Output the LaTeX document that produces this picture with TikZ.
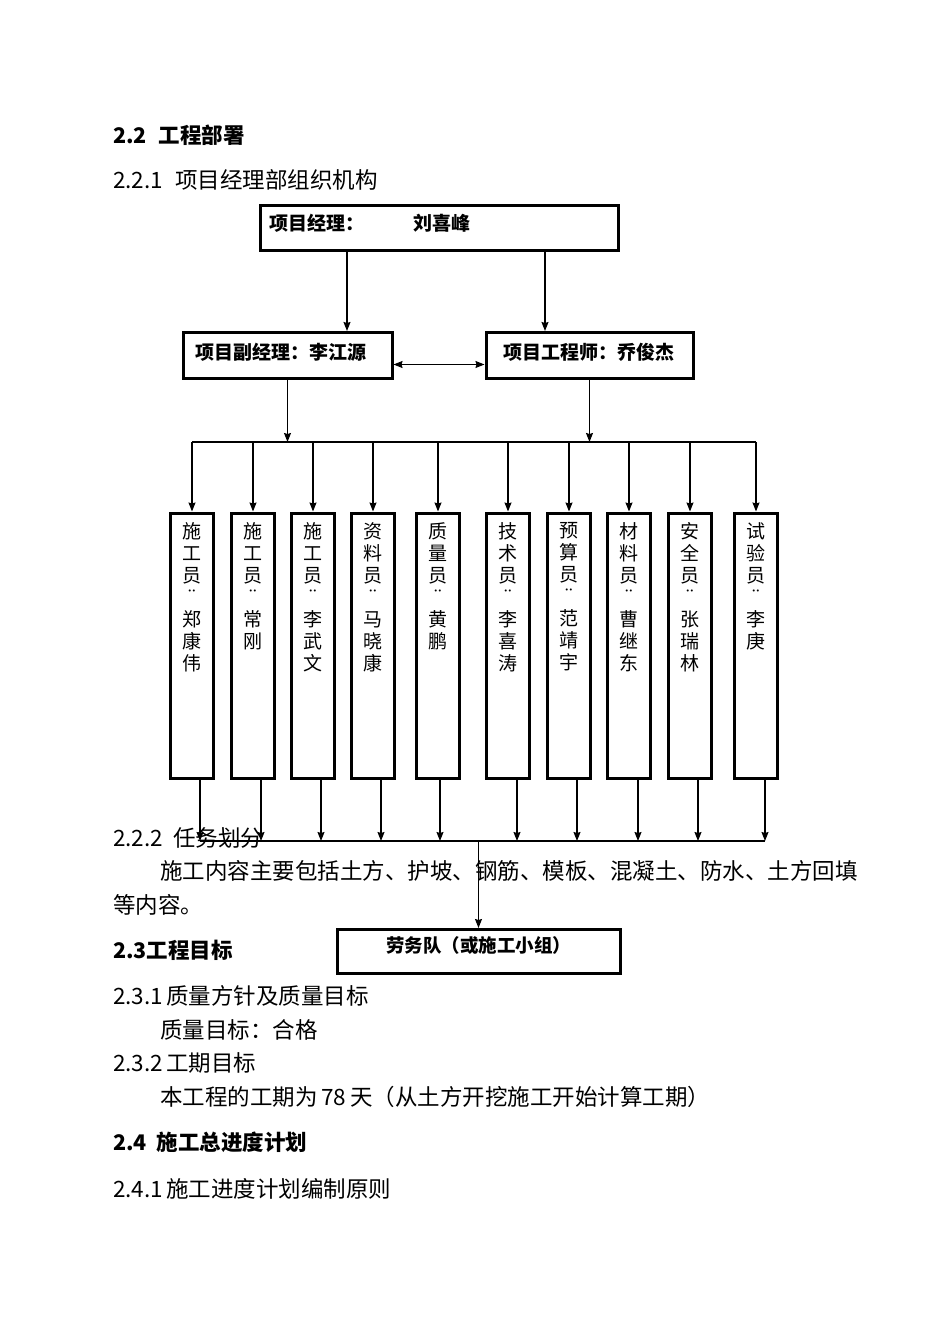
\documentclass[tikz,border=0pt]{standalone}
\usepackage{fontspec}
\setmainfont{Noto Sans CJK SC}
\usetikzlibrary{arrows.meta,positioning}

\begin{document}
\begin{tikzpicture}[x=1pt,y=-1pt,>={Stealth[length=9pt,width=7pt,inset=1pt]},
  box/.style={draw,line width=3pt,inner sep=0pt},
  col/.style={box,minimum width=43pt,minimum height=265pt},
  vt/.style={align=center,text width=20pt,inner sep=0pt,font=\fontsize{19}{22}\selectfont},
  txt/.style={anchor=base west,inner sep=0pt,font=\fontsize{22.5}{26}\selectfont},
  hd/.style={txt,font=\fontsize{21.5}{26}\selectfont\bfseries},
  ln/.style={line width=1.1pt}]
\useasboundingbox (0,0) rectangle (950,1344);
\coordinate (bus) at (0,442);
\coordinate (low) at (0,841);

% text of the page
\node[hd] (s22) at (113,143) {2.2\hspace{12pt}工程部署};
\node[txt] (s221) at (113,188) {2.2.1\hspace{12pt}项目经理部组织机构};
\node[txt] (s222) at (113,846) {2.2.2\hspace{10pt}任务划分};
\node[txt] (p1) at (160,879) {施工内容主要包括土方、护坡、钢筋、模板、混凝土、防水、土方回填};
\node[txt] (p2) at (113,913) {等内容。};
\node[hd] (s23) at (113,958) {2.3工程目标};
\node[txt] (s231) at (113,1004) {2.3.1\hspace{3pt}质量方针及质量目标};
\node[txt] (p3) at (160,1038) {质量目标：合格};
\node[txt] (s232) at (113,1071) {2.3.2\hspace{3pt}工期目标};
\node[txt] (p4) at (160,1105) {本工程的工期为\,78\,天（从土方开挖施工开始计算工期）};
\node[hd] (s24) at (113,1150) {2.4\hspace{10pt}施工总进度计划};
\node[txt] (s241) at (113,1197) {2.4.1\hspace{3pt}施工进度计划编制原则};

% organisation chart
\node[box,minimum width=358pt,minimum height=45pt,text width=340pt,align=left,
  text height=13pt,text depth=9pt,
  font=\fontsize{19}{22}\selectfont\bfseries] (pm) at (439,228) {项目经理：\hspace{50pt}刘喜峰};
\node[box,minimum width=209pt,minimum height=46pt,text width=185pt,align=left,
  text height=14pt,text depth=7pt,
  font=\fontsize{19}{22}\selectfont\bfseries] (dep) at (287.5,355.5) {项目副经理：李江源};
\node[box,minimum width=207pt,minimum height=46pt,text width=172pt,align=left,
  text height=14pt,text depth=7pt,
  font=\fontsize{19}{22}\selectfont\bfseries] (eng) at (589.5,355.5) {项目工程师：乔俊杰};
\node[box,minimum width=283pt,minimum height=44pt,text height=12pt,text depth=10pt,
  font=\fontsize{18.5}{22}\selectfont\bfseries] (team) at (478.5,951.5) {劳务队（或施工小组）};

\draw[ln,->] ([xshift=-92pt]pm.south) -- ([xshift=-92pt]pm.south |- dep.north);
\draw[ln,->] ([xshift=106pt]pm.south) -- ([xshift=106pt]pm.south |- eng.north);
\draw[ln,<->] ([yshift=-9pt]dep.east) -- ([yshift=-9pt]eng.west);
\draw[ln,->] (dep.south) -- (dep.south |- bus);
\draw[ln,->] (eng.south) -- (eng.south |- bus);

\foreach \i/\x/\dx/\who in {1/192/8/{施\\工\\员\\¨\\郑\\康\\伟},2/253/8/{施\\工\\员\\¨\\常\\刚},
  3/313/8/{施\\工\\员\\¨\\李\\武\\文},4/373/8/{资\\料\\员\\¨\\马\\晓\\康},
  5/438/2/{质\\量\\员\\¨\\黄\\鹏},6/508/9/{技\\术\\员\\¨\\李\\喜\\涛},
  7/569/8/{预\\算\\员\\¨\\范\\靖\\宇},8/629/9/{材\\料\\员\\¨\\曹\\继\\东},
  9/690/8/{安\\全\\员\\¨\\张\\瑞\\林},10/756/9/{试\\验\\员\\¨\\李\\庚}}{
  \node[col] (c\i) at (\x,645.5) {};
  \node[vt,below=11pt of c\i.north] (t\i) {\who};
  \draw[ln,->] (c\i.north |- bus) -- (c\i.north);
  \draw[ln,->] ([xshift=\dx pt]c\i.south) -- ([xshift=\dx pt]c\i.south |- low);
}
\draw[ln] (c1.north |- bus) -- (c10.north |- bus);
\draw[ln] ([xshift=8pt]c1.south |- low) -- ([xshift=9pt]c10.south |- low);
\draw[ln,->] (team.north |- low) -- (team.north);
\end{tikzpicture}
\end{document}
